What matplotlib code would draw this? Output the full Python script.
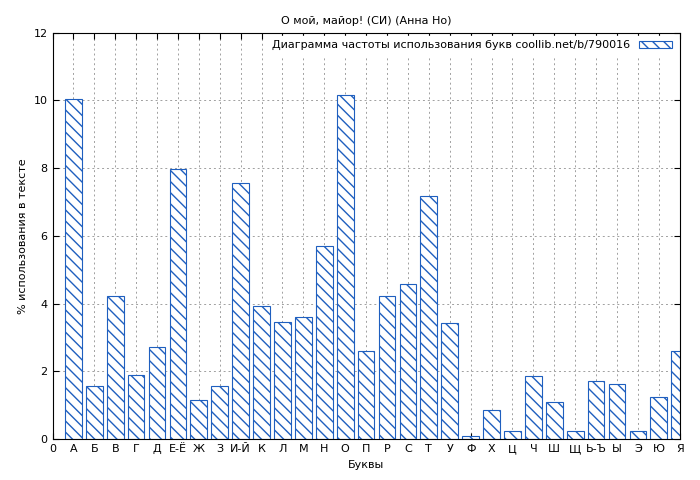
import matplotlib
matplotlib.use("Agg")
import matplotlib.pyplot as plt

letters = ['0', 'А', 'Б', 'В', 'Г', 'Д', 'Е-Ё', 'Ж', 'З', 'И-Й', 'К', 'Л', 'М', 'Н', 'О', 'П',
           'Р', 'С', 'Т', 'У', 'Ф', 'Х', 'Ц', 'Ч', 'Ш', 'Щ', 'Ь-Ъ', 'Ы', 'Э', 'Ю', 'Я']
freq = [0, 10.05, 1.57, 4.23, 1.9, 2.72, 7.98, 1.15, 1.57, 7.55, 3.93, 3.47, 3.6, 5.7, 10.15, 2.6,
        4.23, 4.58, 7.18, 3.43, 0.08, 0.87, 0.25, 1.87, 1.1, 0.25, 1.72, 1.63, 0.25, 1.25, 2.6]

plt.rcParams['font.family'] = ['DejaVu Sans']
plt.rcParams['font.size'] = 8
plt.rcParams['hatch.color'] = '#1f5fbf'

fig = plt.figure(figsize=(7, 4.8), dpi=100)
ax = fig.add_axes([0.075, 0.085, 0.896, 0.847])
x = list(range(len(letters)))
ax.bar(x[1:], freq[1:], width=0.8, facecolor='white', edgecolor='#1f5fbf', hatch='\\\\\\',
       linewidth=0.8, label='Диаграмма частоты использования букв coollib.net/b/790016', zorder=2)
ax.set_xlim(0, 30)
ax.set_ylim(0, 12)
ax.set_xticks(x)
ax.set_xticklabels(letters)
ax.set_yticks(range(0, 13, 2))
ax.grid(True, color='#a0a0a0', linestyle=(0, (2, 3)), linewidth=0.7, zorder=0)
ax.tick_params(direction='in', length=4, top=True, right=True)
ax.set_xlabel('Буквы')
ax.set_ylabel('% использования в тексте')
ax.set_title('О мой, майор! (СИ) (Анна Но)', fontsize=8)
leg = ax.legend(loc='upper right', frameon=True, fancybox=False, edgecolor='white',
                framealpha=1, borderaxespad=0.3, handlelength=3, markerfirst=False)
plt.savefig('out.png')
